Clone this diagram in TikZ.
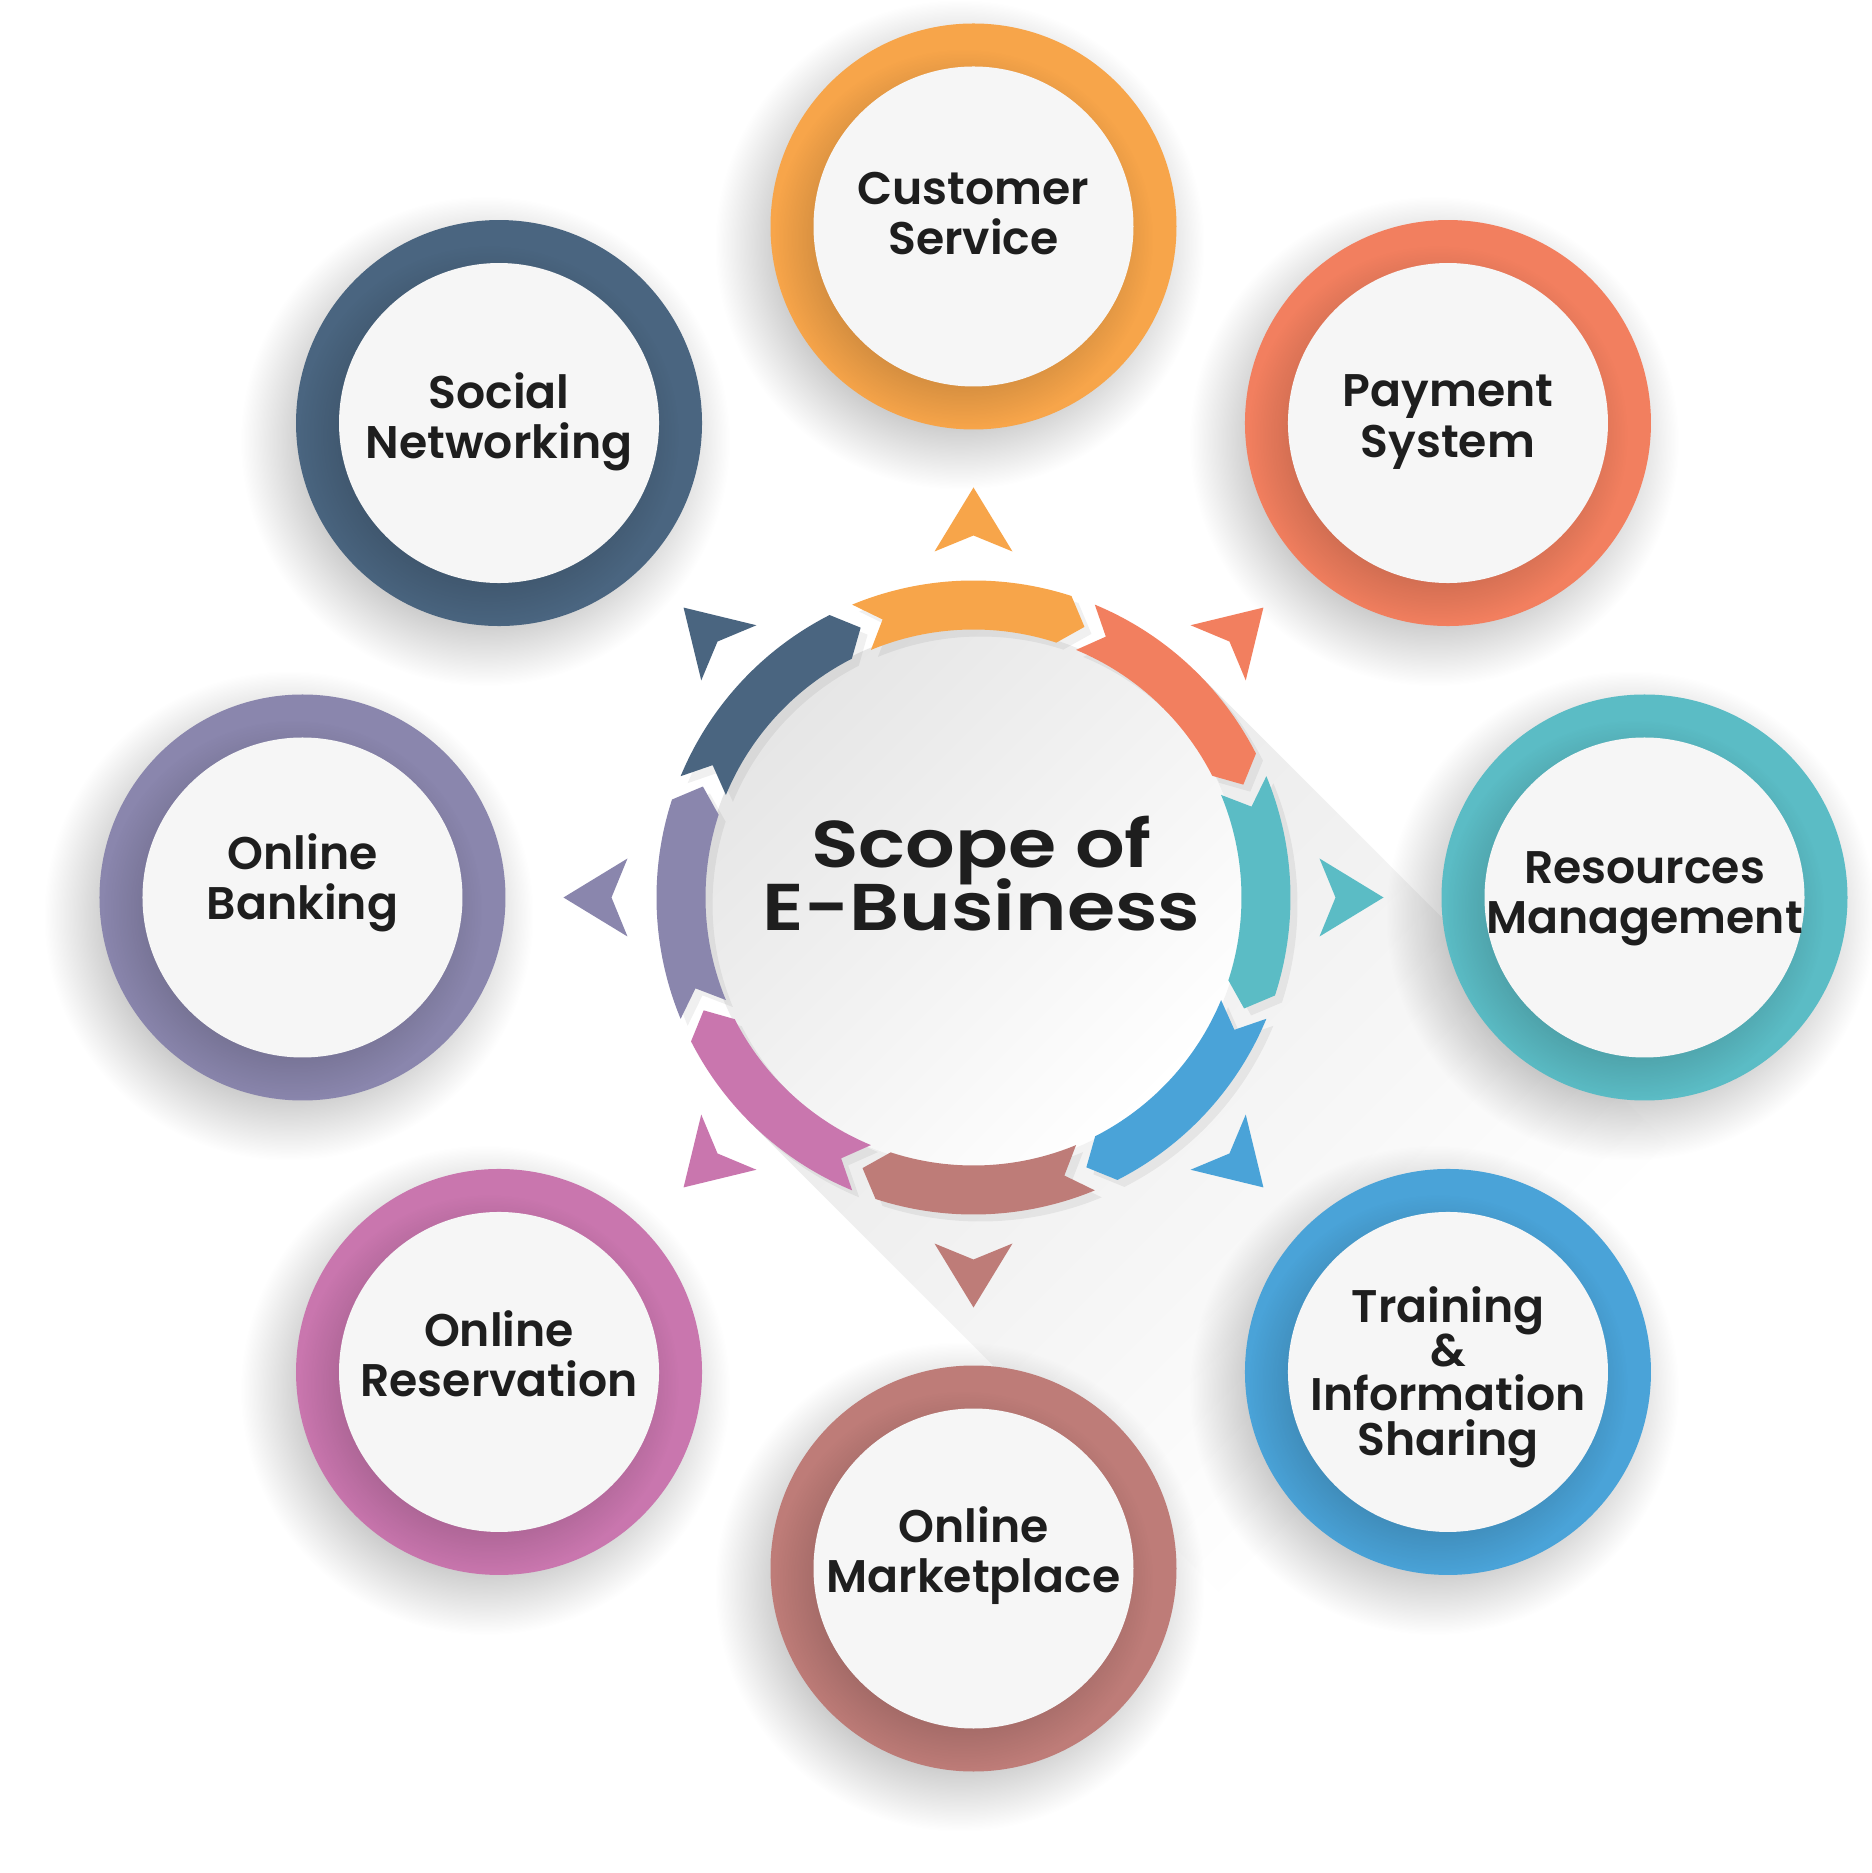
\documentclass[tikz,border=0pt]{standalone}
\usepackage{fontspec}
\setmainfont{Poppins}[BoldFont={Poppins SemiBold}]
\newfontfamily\titlefont{Poppins SemiBold}[FakeStretch=1.18]
\usetikzlibrary{fadings}
\definecolor{cOrange}{HTML}{F7A54A}
\definecolor{cCoral}{HTML}{F27F5F}
\definecolor{cTeal}{HTML}{5BBCC5}
\definecolor{cBlue}{HTML}{4AA3D8}
\definecolor{cBrown}{HTML}{BE7C78}
\definecolor{cPink}{HTML}{C976AE}
\definecolor{cPurple}{HTML}{8A86AD}
\definecolor{cSlate}{HTML}{4A6580}
\definecolor{cDisk}{HTML}{F6F6F6}
\definecolor{cText}{HTML}{1E1E1E}
\pgfdeclareradialshading{softshade}{\pgfpointorigin}{color(0pt)=(pgftransparent!0); color(15pt)=(pgftransparent!0); color(25pt)=(pgftransparent!100); color(50pt)=(pgftransparent!100)}
\pgfdeclarefading{softcirc}{\pgfuseshading{softshade}}
\tikzset{
  lbl/.style={align=center, text=cText, inner sep=0pt},
  title/.style={align=center, text=cText, font=\titlefont\fontsize{18.8}{18}\selectfont, inner sep=0pt},
  softshadow/.style={fill=black, opacity=0.30, path fading=softcirc},
  innershadow/.style={fill=black, opacity=0.22, path fading=softcirc},
}
\setlength{\lineskiplimit}{-100pt}
\begin{document}
\setlength{\lineskiplimit}{-100pt}
\begin{tikzpicture}[x=0.01cm, y=0.01cm]
\useasboundingbox (-973.5,-975.5) rectangle (897.5,897.5);
\fill[white] (-973.5,-975.5) rectangle (897.5,897.5);
% long shadow of central ring
\begin{scope}[transform canvas={rotate=-45}]
  \shade[left color=gray!16, right color=white] (0,-317) rectangle (680,317);
\end{scope}
% satellites
\foreach \ang/\col/\nm/\dy/\lead/\txt in {
  90/cOrange/cust/13/14.3/{Customer\\Service},
  45/cCoral/pay/1/14.3/{Payment\\System},
  0/cTeal/res/-1/14.3/{Resources\\Management},
  -45/cBlue/train/-5/12.6/{Training\\\&\\Information\\Sharing},
  -90/cBrown/market/13/14.3/{Online\\Marketplace},
  -135/cPink/reserv/18/14.3/{Online\\Reservation},
  180/cPurple/bank/15/14.3/{Online\\Banking},
  135/cSlate/social/1/14.3/{Social\\Networking}}{
  \begin{scope}[shift={(\ang:671)}]
    \fill[softshadow] (-14,-18) circle (245);
    \fill[\col] (0,0) circle (203);
    \begin{scope}
      \clip (0,0) circle (203);
      \fill[innershadow] (-10,-12) circle (190);
    \end{scope}
    \fill[cDisk] (0,0) circle (160);
    \node[lbl, font=\bfseries\fontsize{13}{\lead pt}\selectfont] (\nm) at (0,\dy) {\txt};
  \end{scope}
}
% central disk
\fill[white] (0,0) circle (270);
\begin{scope}
  \clip (0,0) circle (270);
  \shade[top color=gray!20, middle color=white, bottom color=white, shading angle=45] (-270,-270) rectangle (270,270);
\end{scope}
% ring segments (clockwise arrows) with small cast shadows
\foreach \a in {90,45,0,-45,-90,-135,180,135}{
  \fill[black, opacity=0.06, shift={(7,-7)}] (\a+22.5:317) arc[start angle=\a+22.5, end angle=\a-18, radius=317]
     -- (\a-22.3:292.5) -- (\a-18:268)
     arc[start angle=\a-18, end angle=\a+22.5, radius=268]
     -- (\a+18.1:292.5) -- cycle;
}
\foreach \a/\col in {90/cOrange,45/cCoral,0/cTeal,-45/cBlue,-90/cBrown,-135/cPink,180/cPurple,135/cSlate}{
  \fill[\col] (\a+22.5:317) arc[start angle=\a+22.5, end angle=\a-18, radius=317]
     -- (\a-22.3:292.5) -- (\a-18:268)
     arc[start angle=\a-18, end angle=\a+22.5, radius=268]
     -- (\a+18.1:292.5) -- cycle;
  \fill[\col, rotate=\a] (410,0) -- (346,39) -- (362,0) -- (346,-39) -- cycle;
}
\node[title] (center) at (8,24) {Scope of\\E-Business};
\end{tikzpicture}
\end{document}
